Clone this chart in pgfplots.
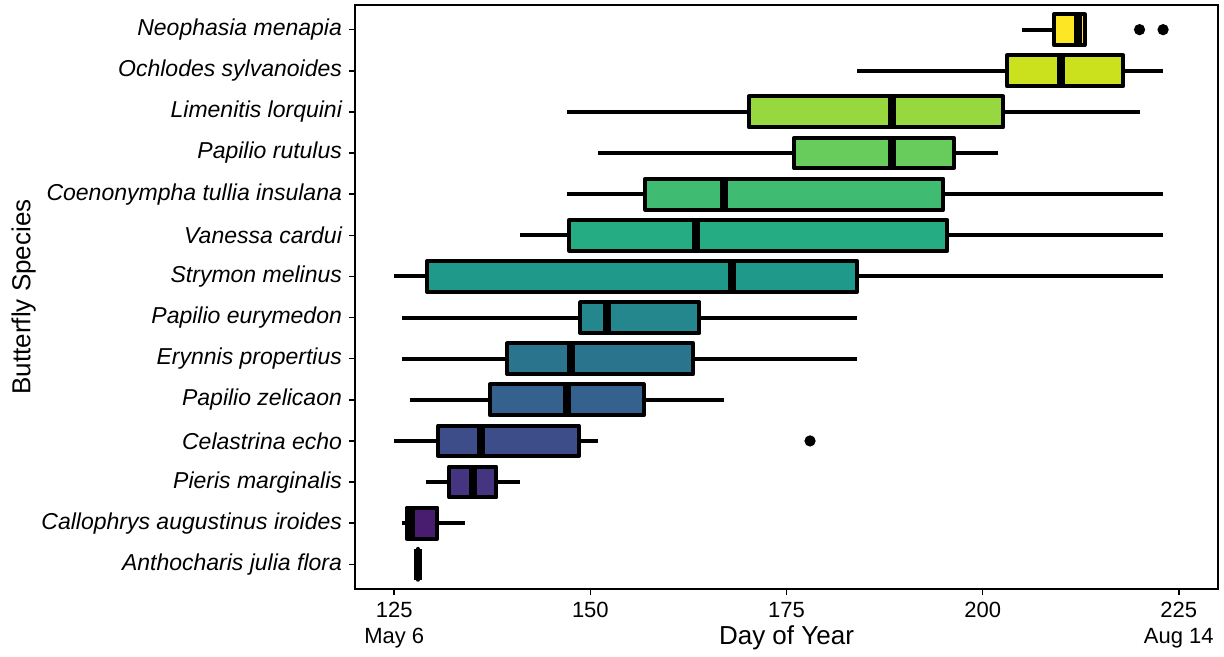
\documentclass[border=0pt]{standalone}
\usepackage{fontspec}
\setmainfont{Liberation Sans}
\usepackage{pgfplots}
\pgfplotsset{compat=1.18}
\usepgfplotslibrary{statistics}
\definecolor{v1}{HTML}{440154}
\definecolor{v2}{HTML}{481C6E}
\definecolor{v3}{HTML}{453581}
\definecolor{v4}{HTML}{3D4D8A}
\definecolor{v5}{HTML}{34618D}
\definecolor{v6}{HTML}{2B748E}
\definecolor{v7}{HTML}{24878E}
\definecolor{v8}{HTML}{1F998A}
\definecolor{v9}{HTML}{25AC82}
\definecolor{v10}{HTML}{40BC72}
\definecolor{v11}{HTML}{67CC5C}
\definecolor{v12}{HTML}{97D83F}
\definecolor{v13}{HTML}{CBE11E}
\definecolor{v14}{HTML}{FDE725}
\begin{document}
\begin{tikzpicture}
\begin{axis}[
 name=ax,
 scale only axis, width=431.5pt, height=292pt,
 xmin=120, xmax=230, ymin=0.4, ymax=14.6,
 xtick={125,150,175,200,225},
 xticklabels={{125\\May 6},150,175,200,{225\\Aug 14}},
 xticklabel style={align=center, font=\fontsize{11}{13}\selectfont},
 ytick={1,...,14},
 yticklabels={Anthocharis julia flora, Callophrys augustinus iroides, Pieris marginalis, Celastrina echo, Papilio zelicaon, Erynnis propertius, Papilio eurymedon, Strymon melinus, Vanessa cardui, Coenonympha tullia insulana, Papilio rutulus, Limenitis lorquini, Ochlodes sylvanoides, Neophasia menapia},
 yticklabel style={font=\fontsize{11.5}{13}\selectfont\itshape},
 tick align=outside, tick pos=left,
 major tick length=3pt,
 every tick/.style={black, line width=0.8pt},
 axis line style={line width=0.8pt},
 xlabel={Day of Year}, ylabel={Butterfly Species},
 label style={font=\fontsize{13}{15}\selectfont},
 xlabel style={at={(axis description cs:0.5,-0.084)}, anchor=center},
 ylabel style={at={(axis description cs:-0.384,0.5)}, anchor=center},
 boxplot/draw direction=x,
 boxplot/box extend=0.75,
 boxplot/whisker extend=0,
 boxplot/every median/.style={line width=4pt},
 boxplot/every whisker/.style={line width=2pt},
 boxplot/every box/.style={line width=2pt, line join=round},
 /pgf/number format/assume math mode=true,
]
\addplot[draw=black, fill=v1, boxplot prepared={draw position=1, lower whisker=128, lower quartile=128, median=128, upper quartile=128, upper whisker=128}] coordinates {};
\addplot[draw=black, fill=v2, boxplot prepared={draw position=2, lower whisker=126, lower quartile=126.6, median=127.1, upper quartile=130.5, upper whisker=134}] coordinates {};
\addplot[draw=black, fill=v3, boxplot prepared={draw position=3, lower whisker=129, lower quartile=132, median=135.1, upper quartile=138, upper whisker=141}] coordinates {};
\addplot[draw=black, fill=v4, boxplot prepared={draw position=4, lower whisker=125, lower quartile=130.6, median=136.1, upper quartile=148.5, upper whisker=151}] coordinates {};
\addplot[draw=black, fill=v5, boxplot prepared={draw position=5, lower whisker=127, lower quartile=137.2, median=147, upper quartile=156.8, upper whisker=167}] coordinates {};
\addplot[draw=black, fill=v6, boxplot prepared={draw position=6, lower whisker=126, lower quartile=139.4, median=147.5, upper quartile=163.1, upper whisker=184}] coordinates {};
\addplot[draw=black, fill=v7, boxplot prepared={draw position=7, lower whisker=126, lower quartile=148.7, median=152.1, upper quartile=163.9, upper whisker=184}] coordinates {};
\addplot[draw=black, fill=v8, boxplot prepared={draw position=8, lower whisker=125, lower quartile=129.2, median=168, upper quartile=184, upper whisker=223}] coordinates {};
\addplot[draw=black, fill=v9, boxplot prepared={draw position=9, lower whisker=141, lower quartile=147.3, median=163.5, upper quartile=195.5, upper whisker=223}] coordinates {};
\addplot[draw=black, fill=v10, boxplot prepared={draw position=10, lower whisker=147, lower quartile=157, median=167, upper quartile=195, upper whisker=223}] coordinates {};
\addplot[draw=black, fill=v11, boxplot prepared={draw position=11, lower whisker=151, lower quartile=176, median=188.5, upper quartile=196.3, upper whisker=202}] coordinates {};
\addplot[draw=black, fill=v12, boxplot prepared={draw position=12, lower whisker=147, lower quartile=170.2, median=188.5, upper quartile=202.6, upper whisker=220}] coordinates {};
\addplot[draw=black, fill=v13, boxplot prepared={draw position=13, lower whisker=184, lower quartile=203.1, median=210, upper quartile=217.9, upper whisker=223}] coordinates {};
\addplot[draw=black, fill=v14, boxplot prepared={draw position=14, lower whisker=205, lower quartile=209.1, median=212.2, upper quartile=213, upper whisker=213}] coordinates {};
\addplot[only marks, mark=*, mark size=2.6pt, black] coordinates {(220,14) (223,14) (178,4)};
\end{axis}
\pgfresetboundingbox
\path[use as bounding box] ([xshift=-177.5pt,yshift=-34pt]ax.south west) rectangle ([xshift=3pt,yshift=2.5pt]ax.north east);
\end{tikzpicture}
\end{document}
